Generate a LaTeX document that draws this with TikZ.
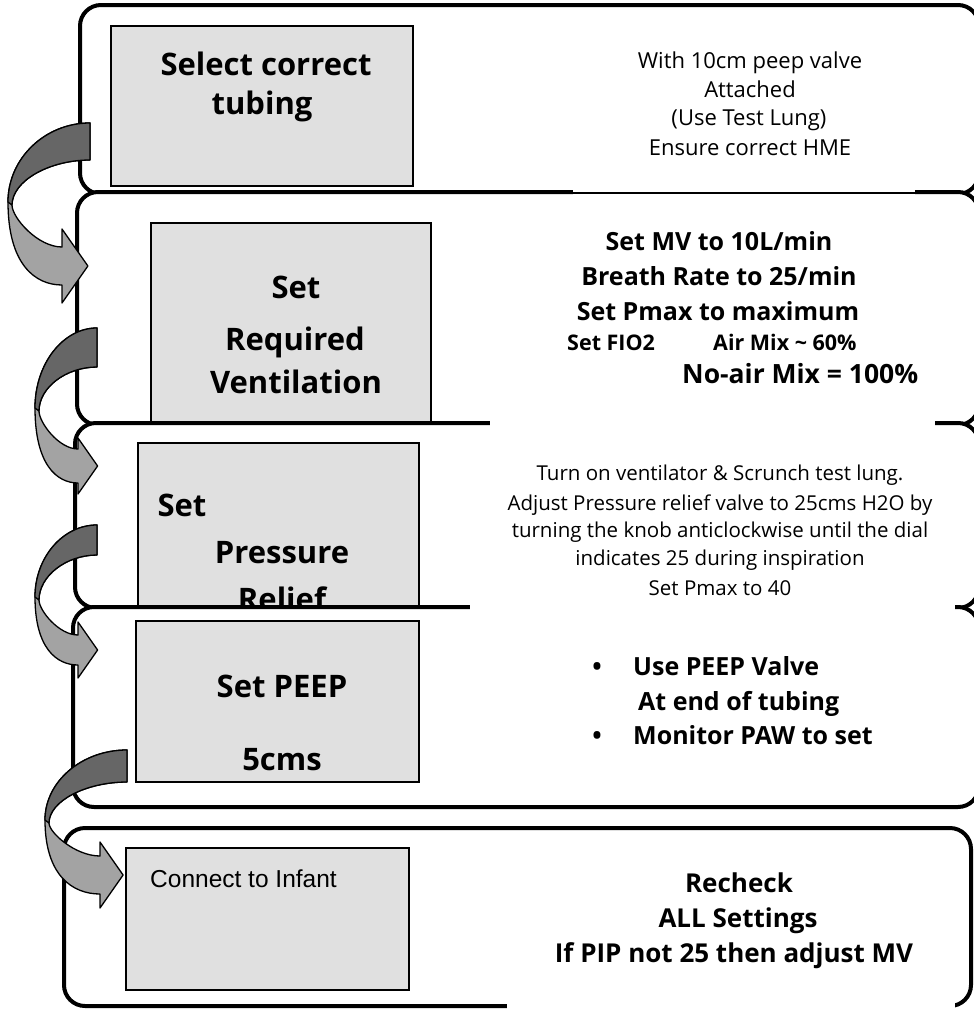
\documentclass[tikz,border=0pt]{standalone}
\usepackage{fontspec}
\setmainfont{Open Sans}
\newfontfamily\myArial{Liberation Sans}
\newcommand\myBig{\bfseries\fontsize{31}{36}\selectfont}
\newcommand\myMid{\bfseries\fontsize{25}{29}\selectfont}
\newcommand\myReg{\fontsize{22}{25}\selectfont}
\newcommand\mySml{\fontsize{20.5}{24}\selectfont}
\tikzset{
  panel/.style={draw=black, line width=4pt, fill=white, rounded corners=21pt},
  gbox/.style={draw=black, line width=1.6pt, fill=black!12, inner sep=0pt},
  txt/.style={inner sep=0pt, anchor=base},
  ltxt/.style={inner sep=0pt, anchor=base west},
  arrowlight/.style={fill=black!36, draw=black, line width=1.3pt, line join=round},
  arrowdark/.style={fill=black!60, draw=black, line width=1.3pt, line join=round},
}
% #1 tail x, #2 tail top y, #3 tail bottom y, #4 outer left x, #5 left y,
% #6 head base x, #7 head centre y, #8 body half width, #9 head half width
\newcommand\bendarrow[9]{%
  \path[arrowlight] (#1,#2) .. controls ({#4+0.45*(#1-#4)},#2) and (#4,{#5-0.55*(#5-#2)}) .. (#4,#5)
    .. controls (#4,{#5+0.75*(#7+#8-#5)}) and ({#4+0.5*(#6-#4)},{#7+#8}) .. (#6,{#7+#8})
    -- (#6,{#7+#9}) -- ({#6+0.7*#9},#7) -- (#6,{#7-#9}) -- (#6,{#7-#8})
    .. controls ({#4+0.55*(#6-#4)},{#7-#8}) and ({#4+4},{#5+0.35*(#7-#8-#5)}) .. ({#4+4},{#5+3})
    .. controls ({#4+4},{#5-0.5*(#5-#3)}) and ({#4+0.5*(#1-#4)},#3) .. (#1,#3) -- cycle;
  \path[arrowdark] (#1,#2) .. controls ({#4+0.45*(#1-#4)},#2) and (#4,{#5-0.55*(#5-#2)}) .. (#4,#5)
    -- ({#4+4},{#5+3})
    .. controls ({#4+4},{#5-0.5*(#5-#3)}) and ({#4+0.5*(#1-#4)},#3) .. (#1,#3) -- cycle;
}
\begin{document}
\begin{tikzpicture}[x=1pt,y=-1pt]
\useasboundingbox (0,0) rectangle (974,1010);

% panel 1
\draw[panel] (80,5) rectangle (979,194);
\node[gbox, anchor=north west, minimum width=302pt, minimum height=160pt] (b1) at (110,25) {};
\node[txt, font=\myBig] (t1a) at (266,75) {Select correct};
\node[txt, font=\myBig] (t1b) at (262,114) {tubing};

% panel 2
\draw[panel] (77,192) rectangle (979,425);
\node[gbox, anchor=north west, minimum width=280pt, minimum height=201pt] (b2) at (150,222) {};
\node[txt, font=\myBig] (t2a) at (296,298) {Set};
\node[txt, font=\myBig] (t2b) at (295,350) {Required};
\node[txt, font=\myBig] (t2c) at (296,393) {Ventilation};

% panel 3
\draw[panel] (75,423) rectangle (979,608);
\node[gbox, anchor=north west, minimum width=281pt, minimum height=172pt] (b3) at (137,442) {};
\node[txt, font=\myBig] (t3a) at (182,516) {Set};
\node[txt, font=\myBig] (t3b) at (282,563) {Pressure};
\node[txt, font=\myBig] (t3c) at (282,610) {Relief};

% panel 4
\draw[panel] (73,607) rectangle (979,807);
\node[gbox, anchor=north west, minimum width=283pt, minimum height=161pt] (b4) at (135,620) {};
\node[txt, font=\myBig] (t4a) at (282,697) {Set PEEP};
\node[txt, font=\myBig] (t4b) at (282,770) {5cms};

% panel 5
\draw[panel] (64,828) rectangle (971,1006);
\node[gbox, anchor=north west, minimum width=283pt, minimum height=142pt] (b5) at (125,847) {};
\node[ltxt, font=\myArial\fontsize{24.5}{29}\selectfont] (t5) at (150,887) {Connect to Infant};

% gaps in the outlines (covered by the text areas)
\fill[white] (573,189) rectangle (915,197);
\draw[line width=1.2pt] (573,193) -- (915,193);
\fill[white] (490,418) rectangle (935,429);
\fill[white] (470,601) rectangle (955,613);
\fill[white] (507,1001) rectangle (955,1012);

% curved block arrows
\bendarrow{90}{123}{160}{8}{202}{62}{266}{19}{37}
\bendarrow{97}{328}{367}{35}{408}{78}{466}{17}{28}
\bendarrow{97}{525}{555}{35}{597}{78}{650}{15}{28}
\bendarrow{127}{750}{782}{45}{820}{100}{875}{19}{33}

% right-hand texts, panel 1
\node[txt, font=\myReg] (r1a) at (750,68) {With 10cm peep valve};
\node[txt, font=\myReg] (r1b) at (750,97) {Attached};
\node[txt, font=\myReg] (r1c) at (749,125) {(Use Test Lung)};
\node[txt, font=\myReg] (r1d) at (750,155) {Ensure correct HME};

% panel 2
\node[txt, font=\myMid] (r2a) at (719,250) {Set MV to 10L/min};
\node[txt, font=\myMid] (r2b) at (719,285) {Breath Rate to 25/min};
\node[txt, font=\myMid] (r2c) at (718,320) {Set Pmax to maximum};
\node[ltxt, font=\bfseries\fontsize{21.5}{25}\selectfont] (r2d) at (567,350) {Set FIO2};
\node[ltxt, font=\bfseries\fontsize{21.5}{25}\selectfont] (r2e) at (713,350) {Air Mix \textasciitilde{} 60\%};
\node[ltxt, font=\bfseries\fontsize{26.5}{30}\selectfont] (r2f) at (682,383) {No-air Mix = 100\%};

% panel 3
\node[txt, font=\mySml] (r3a) at (720,480) {Turn on ventilator \& Scrunch test lung.};
\node[txt, font=\mySml] (r3b) at (720,510) {Adjust Pressure relief valve to 25cms H2O by};
\node[txt, font=\mySml] (r3c) at (720,537) {turning the knob anticlockwise until the dial};
\node[txt, font=\mySml] (r3d) at (720,565) {indicates 25 during inspiration};
\node[txt, font=\mySml] (r3e) at (720,595) {Set Pmax to 40};

% panel 4
\node[txt, font=\myMid] (r4b1) at (597,675) {\textbullet};
\node[ltxt, font=\myMid] (r4a) at (633,675) {Use PEEP Valve};
\node[ltxt, font=\myMid] (r4b) at (638,710) {At end of tubing};
\node[txt, font=\myMid] (r4b2) at (597,744) {\textbullet};
\node[ltxt, font=\myMid] (r4c) at (633,744) {Monitor PAW to set};

% panel 5
\node[txt, font=\bfseries\fontsize{26}{30}\selectfont] (r5a) at (739,892) {Recheck};
\node[txt, font=\bfseries\fontsize{26}{30}\selectfont] (r5b) at (738,927) {ALL Settings};
\node[txt, font=\bfseries\fontsize{26}{30}\selectfont] (r5c) at (734,962) {If PIP not 25 then adjust MV};
\end{tikzpicture}
\end{document}
